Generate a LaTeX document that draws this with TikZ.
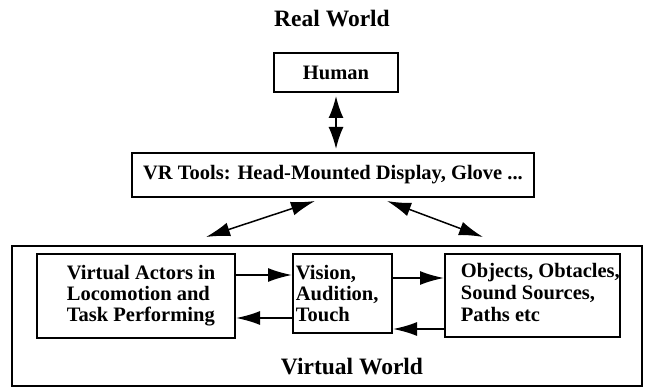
\documentclass[tikz,border=0pt]{standalone}
\usepackage{fontspec}
\setmainfont{Liberation Serif}
\usetikzlibrary{arrows.meta,calc}

\begin{document}
\begin{tikzpicture}[x=1pt, y=-1pt, >={Latex[length=24pt,width=14pt]}, line width=1.8pt,
    box/.style={draw, line width=2pt, inner sep=0pt},
    txt/.style={font=\fontsize{20.5}{21}\selectfont\bfseries, align=left, inner sep=0pt},
    ttl/.style={font=\fontsize{23.5}{25}\selectfont\bfseries, inner sep=0pt}]
\useasboundingbox (0,0) rectangle (645,387);
% real world
\node[ttl] (real) at (332,19) {Real World};
\node[box, txt, minimum width=124pt, minimum height=39pt] (human) at (336,72.5) {Human};
\node[box, txt, minimum width=402pt, minimum height=44pt] (vr) at (333,175) {VR Tools: Head-Mounted Display, Glove ...};
\draw[{Latex[length=22pt,width=15pt]}-{Latex[length=22pt,width=15pt]}, shorten <=3pt, shorten >=3pt]
    (human.south) -- (human.south |- vr.north);

% virtual world
\node[box, minimum width=630pt, minimum height=140pt] (virtual) at (327,316) {};
\node[ttl] (vwtitle) at (352,367) {Virtual World};
\node[box, minimum width=198pt, minimum height=84pt] (actors) at (136,296) {};
\node[box, minimum width=99pt, minimum height=79pt] (senses) at (342.5,293.5) {};
\node[box, minimum width=175pt, minimum height=83pt] (objects) at (532.5,295.5) {};
\node[txt, anchor=west] (actorsT) at (66,296) {Virtual Actors in\\Locomotion and\\Task Performing};
\node[txt, anchor=west] (sensesT) at (295,294) {Vision,\\Audition,\\Touch};
\node[txt, anchor=west, font=\fontsize{20.5}{22}\selectfont\bfseries] (objectsT) at (460,292) {Objects, Obtacles,\\Sound Sources,\\Paths etc};

% tools <-> virtual world
\coordinate (vl) at ($(vr.south)+(-18,3)$);
\coordinate (wl) at ($(virtual.north)+(-121,-8)$);
\coordinate (vrr) at ($(vr.south)+(54,3)$);
\coordinate (wr) at ($(virtual.north)+(156,-8)$);
\draw[<->, line width=1.5pt] (vl) -- (wl);
\draw[<->, line width=1.5pt] (vrr) -- (wr);

% inside
\coordinate (a1) at ([yshift=21pt]actors.east);
\coordinate (a2) at ([yshift=-22pt]actors.east);
\coordinate (o1) at ([yshift=15.5pt]senses.east);
\coordinate (o2) at ([yshift=-33.5pt]objects.west);
\draw[->] (a1) -- (a1 -| senses.west);
\draw[->] (senses.west |- a2) -- (a2);
\draw[->] (o1) -- (o1 -| objects.west);
\draw[->] (o2) -- (o2 -| senses.east);
\end{tikzpicture}
\end{document}
